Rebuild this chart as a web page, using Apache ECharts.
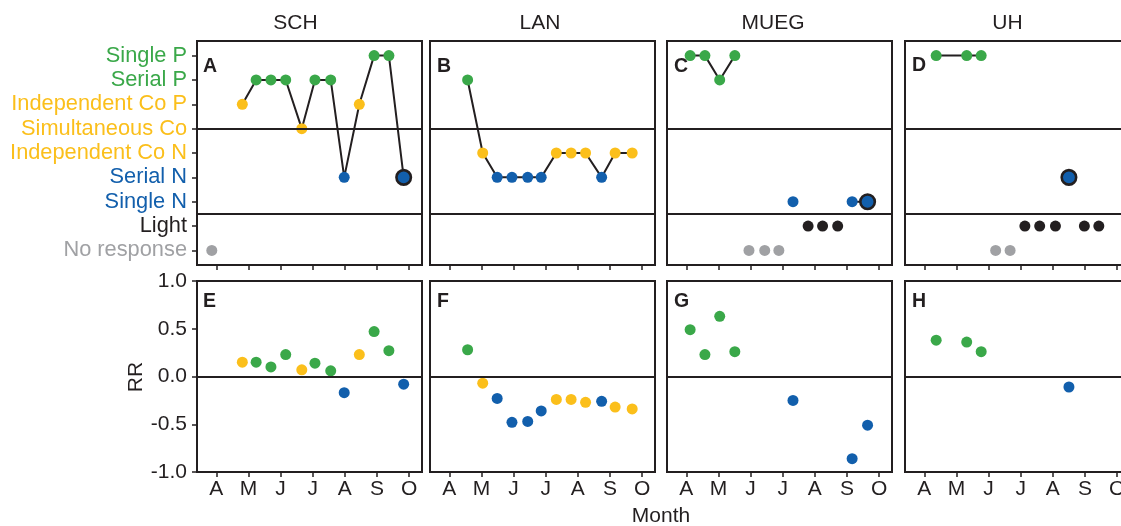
<!DOCTYPE html>
<html>
<head>
<meta charset="utf-8">
<script src="https://cdn.jsdelivr.net/npm/echarts@6/dist/echarts.min.js"></script>
<style>
  html, body { margin: 0; padding: 0; background: #fff; }
  #chart { width: 1121px; height: 526px; }
</style>
</head>
<body>
<div id="chart"></div>
<script>
// month ticks (x in month number, 4 = April)
const monthTicks = [4, 5, 6, 7, 8, 9, 10];
const monthLabels = ["A", "M", "J", "J", "A", "S", "O"];
const siteNames = ["SCH", "LAN", "MUEG", "UH"];
const panelLetters = ["A", "B", "C", "D", "E", "F", "G", "H"];

// response levels, bottom to top (value = index + 1)
const responseLevels = [
  "No response", "Light", "Single N", "Serial N", "Independent Co N",
  "Simultaneous Co", "Independent Co P", "Serial P", "Single P"
];
const levelGroup = ["none", "light", "n", "n", "co", "co", "co", "p", "p"];
const rrTicks = [-1, -0.5, 0, 0.5, 1];

const schTime = [3.86, 4.81, 5.24, 5.70, 6.16, 6.66, 7.07, 7.56, 7.98, 8.45, 8.91, 9.37, 9.83];
const schResponse = ["No response", "Independent Co P", "Serial P", "Serial P", "Serial P", "Simultaneous Co",
  "Serial P", "Serial P", "Serial N", "Independent Co P", "Single P", "Single P", "Serial N"];
const schRR = [null, 0.15, 0.15, 0.10, 0.23, 0.07, 0.14, 0.06, -0.17, 0.23, 0.47, 0.27, -0.08];
const schOutlined = [12];

const lanTime = [4.57, 5.04, 5.49, 5.95, 6.44, 6.86, 7.33, 7.79, 8.24, 8.74, 9.16, 9.69];
const lanResponse = ["Serial P", "Independent Co N", "Serial N", "Serial N", "Serial N", "Serial N",
  "Independent Co N", "Independent Co N", "Independent Co N", "Serial N", "Independent Co N", "Independent Co N"];
const lanRR = [0.28, -0.07, -0.23, -0.48, -0.47, -0.36, -0.24, -0.24, -0.27, -0.26, -0.32, -0.34];
const lanOutlined = [];

const muegTime = [4.12, 4.58, 5.04, 5.51, 5.95, 6.44, 6.88, 7.32, 7.79, 8.24, 8.71, 9.16, 9.64];
const muegResponse = ["Single P", "Single P", "Serial P", "Single P", "No response", "No response", "No response",
  "Single N", "Light", "Light", "Light", "Single N", "Single N"];
const muegRR = [0.49, 0.23, 0.63, 0.26, null, null, null, -0.25, null, null, null, -0.86, -0.51];
const muegOutlined = [12];

const uhTime = [4.37, 5.32, 5.77, 6.22, 6.67, 7.13, 7.59, 8.08, 8.50, 8.98, 9.43];
const uhResponse = ["Single P", "Single P", "Single P", "No response", "No response", "Light", "Light", "Light",
  "Serial N", "Light", "Light"];
const uhRR = [0.38, 0.36, 0.26, null, null, null, null, null, -0.11, null, null];
const uhOutlined = [8];

const sites = [
  { time: schTime, response: schResponse, rr: schRR, outlined: schOutlined },
  { time: lanTime, response: lanResponse, rr: lanRR, outlined: lanOutlined },
  { time: muegTime, response: muegResponse, rr: muegRR, outlined: muegOutlined },
  { time: uhTime, response: uhResponse, rr: uhRR, outlined: uhOutlined }
];

const COLORS = { p: "#3aa849", co: "#fbbf1b", n: "#125fac", light: "#231f20", none: "#a0a1a4" };
const INK = "#231f20";
const FONT = "Liberation Sans, Arial, sans-serif";

const panelLeft = [197, 430, 667, 905];
const panelWidth = 225;
const topRow = { top: 41, height: 224 };
const bottomRow = { top: 281, height: 191 };

function levelValue(name) {
  return responseLevels.indexOf(name) + 1;
}

const grid = [];
const xAxis = [];
const yAxis = [];
const series = [];

function addGrid(col, row) {
  grid.push({
    left: panelLeft[col], top: row.top, width: panelWidth, height: row.height,
    show: true, borderColor: INK, borderWidth: 2,
    outerBoundsMode: "none", containLabel: false
  });
}

function addXAxis(index, showLabels) {
  xAxis.push({
    type: "value",
    gridIndex: index,
    min: 3.4,
    max: 10.4,
    axisLine: { show: true, onZero: false, lineStyle: { color: INK, width: 2 } },
    axisTick: { show: true, customValues: monthTicks, length: 5, lineStyle: { color: INK, width: 1.5 } },
    axisLabel: {
      show: showLabels,
      customValues: monthTicks,
      formatter: (v) => monthLabels[Math.round(v) - 4],
      color: INK,
      fontSize: 21,
      fontFamily: FONT,
      margin: 7,
      hideOverlap: false
    },
    splitLine: { show: false }
  });
}

const richLabels = {};
Object.keys(COLORS).forEach((key) => {
  richLabels[key] = { color: COLORS[key], fontSize: 21.8, fontFamily: FONT };
});

const refLine = { color: INK, width: 2, type: "solid" };

sites.forEach((site, col) => {
  // top row: response type
  const gi = col;
  addGrid(col, topRow);
  addXAxis(gi, false);
  yAxis.push({
    type: "value",
    gridIndex: gi,
    min: 0.4,
    max: 9.6,
    axisLine: { show: true, lineStyle: { color: INK, width: 2 } },
    axisTick: {
      show: col === 0, customValues: [1, 2, 3, 4, 5, 6, 7, 8, 9], length: 5,
      lineStyle: { color: INK, width: 1.5 }
    },
    axisLabel: {
      show: col === 0,
      customValues: [1, 2, 3, 4, 5, 6, 7, 8, 9],
      margin: 10,
      formatter: (v) => {
        const i = Math.round(v) - 1;
        return "{" + levelGroup[i] + "|" + responseLevels[i] + "}";
      },
      rich: richLabels
    },
    splitLine: { show: false }
  });

  const lineData = site.time.map((t, i) => {
    const v = levelValue(site.response[i]);
    return v >= 3 ? [t, v] : [t, "-"];
  });
  series.push({
    type: "line",
    xAxisIndex: gi,
    yAxisIndex: gi,
    data: lineData,
    showSymbol: false,
    connectNulls: false,
    lineStyle: { color: INK, width: 2 },
    silent: true,
    z: 2,
    markLine: {
      silent: true,
      symbol: "none",
      label: { show: false },
      lineStyle: refLine,
      emphasis: { disabled: true },
      data: [{ yAxis: 6 }, { yAxis: 2.5 }]
    }
  });
  series.push({
    type: "scatter",
    xAxisIndex: gi,
    yAxisIndex: gi,
    z: 3,
    data: site.time.map((t, i) => {
      const v = levelValue(site.response[i]);
      const outlined = site.outlined.includes(i);
      return {
        value: [t, v],
        symbolSize: outlined ? 14.5 : 11,
        itemStyle: {
          color: COLORS[levelGroup[v - 1]],
          borderColor: outlined ? INK : "transparent",
          borderWidth: outlined ? 2.6 : 0,
          opacity: 1
        }
      };
    })
  });
});

sites.forEach((site, col) => {
  // bottom row: RR
  const gi = 4 + col;
  addGrid(col, bottomRow);
  addXAxis(gi, true);
  yAxis.push({
    type: "value",
    gridIndex: gi,
    min: -1,
    max: 1,
    interval: 0.5,
    axisLine: { show: true, onZero: false, lineStyle: { color: INK, width: 2 } },
    axisTick: { show: col === 0, customValues: rrTicks, length: 5, lineStyle: { color: INK, width: 1.5 } },
    axisLabel: {
      show: col === 0,
      customValues: rrTicks,
      formatter: (v) => v.toFixed(1),
      color: INK,
      fontSize: 21,
      fontFamily: FONT,
      margin: 10
    },
    splitLine: { show: false }
  });
  const points = [];
  site.time.forEach((t, i) => {
    if (site.rr[i] === null) return;
    const v = levelValue(site.response[i]);
    points.push({ value: [t, site.rr[i]], itemStyle: { color: COLORS[levelGroup[v - 1]], opacity: 1 } });
  });
  series.push({
    type: "scatter",
    xAxisIndex: gi,
    yAxisIndex: gi,
    symbolSize: 11,
    z: 3,
    data: points,
    markLine: {
      silent: true,
      symbol: "none",
      label: { show: false },
      lineStyle: refLine,
      emphasis: { disabled: true },
      data: [{ yAxis: 0 }]
    }
  });
});

const titleCenters = [295.5, 540, 773, 1007.5];
const letterPos = [
  [203, 67], [437, 67], [674, 67], [912, 66],
  [203, 302], [437, 302], [674, 302], [912, 302]
];

const graphic = [];
siteNames.forEach((name, i) => {
  graphic.push({
    type: "text", x: titleCenters[i], y: 23,
    style: { text: name, fill: INK, fontSize: 21, fontFamily: FONT, align: "center", verticalAlign: "middle" }
  });
});
panelLetters.forEach((letter, i) => {
  graphic.push({
    type: "text", x: letterPos[i][0], y: letterPos[i][1],
    style: { text: letter, fill: INK, fontSize: 19.5, fontWeight: "bold", fontFamily: FONT, align: "left", verticalAlign: "middle" }
  });
});
graphic.push({
  type: "text", x: 661, y: 516,
  style: { text: "Month", fill: INK, fontSize: 21, fontFamily: FONT, align: "center", verticalAlign: "middle" }
});
graphic.push({
  type: "text", x: 136, y: 377, rotation: Math.PI / 2,
  style: { text: "RR", fill: INK, fontSize: 21, fontFamily: FONT, align: "center", verticalAlign: "middle" }
});

const chart = echarts.init(document.getElementById("chart"), null, { renderer: "canvas" });
chart.setOption({
  animation: false,
  backgroundColor: "#ffffff",
  textStyle: { fontFamily: FONT },
  grid: grid,
  xAxis: xAxis,
  yAxis: yAxis,
  series: series,
  graphic: graphic
});
</script>
</body>
</html>
